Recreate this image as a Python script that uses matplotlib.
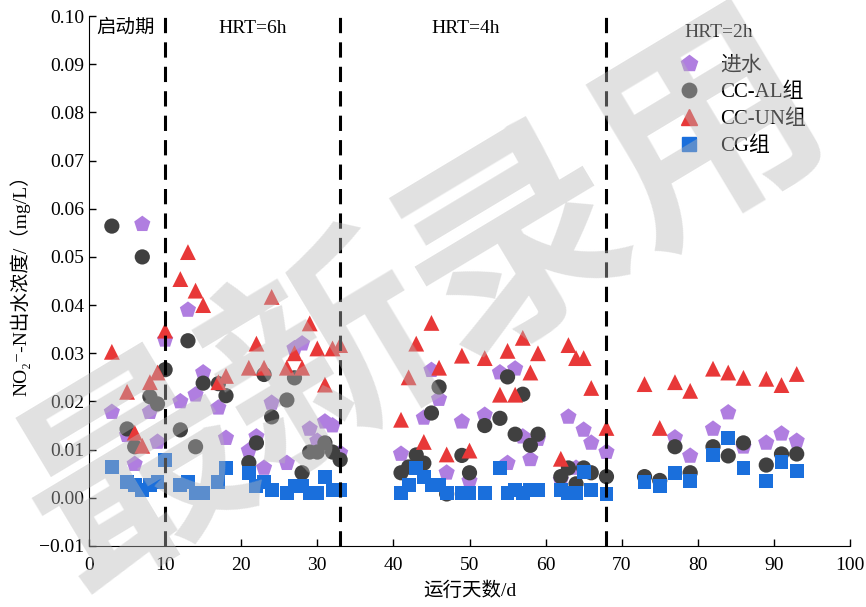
import numpy as np
import matplotlib
matplotlib.use('Agg')
import matplotlib.pyplot as plt
from matplotlib.lines import Line2D
from matplotlib.ticker import FuncFormatter

plt.rcParams['font.family'] = ['Liberation Serif', 'Noto Sans CJK SC', 'DejaVu Sans']

nan = np.nan

# sampling days (d)
days = [3, 5, 6, 7, 8, 9, 10,
        12, 13, 14, 15, 17, 18, 21, 22, 23, 24, 26, 27, 28, 29, 30, 31, 32, 33,
        41, 42, 43, 44, 45, 46, 47, 49, 50, 52, 54, 55, 56, 57, 58, 59, 62, 63, 64, 65, 66, 68,
        73, 75, 77, 79, 82, 84, 86, 89, 91, 93]

# NO2--N concentration (mg/L)
influent = [0.0178, 0.0130, 0.0070, 0.0568, 0.0178, 0.0116, 0.0328,
            0.0200, 0.0390, 0.0214, 0.0260, 0.0187, 0.0124, 0.0098, 0.0127, 0.0062, 0.0197,
            0.0072, 0.0310, 0.0320, 0.0143, 0.0118, 0.0158, 0.0150, 0.0093,
            0.0091, nan, nan, 0.0166, 0.0265, 0.0205, 0.0052, 0.0158, 0.0035, 0.0172,
            0.0260, 0.0072, 0.0268, 0.0127, 0.0080, 0.0122, 0.0037, 0.0168, 0.0062, 0.0141,
            0.0114, 0.0095,
            nan, nan, 0.0125, 0.0087, 0.0143, 0.0177, 0.0106, 0.0114, 0.0133, 0.0118]

cc_al = [0.0564, 0.0143, 0.0106, 0.0500, 0.0210, 0.0195, 0.0266,
         0.0141, 0.0326, 0.0106, 0.0238, 0.0237, 0.0212, 0.0073, 0.0114, 0.0256, 0.0168,
         0.0203, 0.0249, 0.0052, 0.0095, 0.0095, 0.0114, 0.0095, 0.0079,
         0.0052, 0.0064, 0.0089, 0.0072, 0.0176, 0.0230, 0.0008, 0.0088, 0.0052, 0.0150,
         0.0165, 0.0251, 0.0132, 0.0215, 0.0109, 0.0132, 0.0044, 0.0062, 0.0029, 0.0062,
         0.0052, 0.0044,
         0.0044, 0.0036, 0.0106, 0.0052, 0.0106, 0.0087, 0.0114, 0.0068, 0.0091, 0.0091]

cc_un = [0.0303, 0.0220, 0.0135, 0.0108, 0.0240, 0.0260, 0.0347,
         0.0454, 0.0510, 0.0430, 0.0400, 0.0240, 0.0253, 0.0270, 0.0320, 0.0270, 0.0417,
         0.0270, 0.0300, 0.0270, 0.0362, 0.0310, 0.0235, 0.0310, 0.0317,
         0.0162, 0.0250, 0.0320, 0.0116, 0.0363, 0.0270, 0.0090, 0.0295, 0.0098, 0.0290,
         0.0214, 0.0305, 0.0214, 0.0332, 0.0260, 0.0300, 0.0081, 0.0317, 0.0290, 0.0290,
         0.0228, 0.0145,
         0.0236, 0.0145, 0.0240, 0.0222, 0.0268, 0.0260, 0.0249, 0.0247, 0.0234, 0.0257]

cg = [0.0064, 0.0033, 0.0027, 0.0017, 0.0027, 0.0033, 0.0079,
      0.0027, 0.0033, 0.0010, 0.0010, 0.0033, 0.0062, 0.0052, 0.0025, 0.0033, 0.0017,
      0.0010, 0.0025, 0.0025, 0.0010, 0.0010, 0.0043, 0.0017, 0.0017,
      0.0010, 0.0027, 0.0062, 0.0044, 0.0027, 0.0027, 0.0010, 0.0010, 0.0010, 0.0010,
      0.0062, 0.0010, 0.0017, 0.0010, 0.0017, 0.0017, 0.0017, 0.0010, 0.0010, 0.0054,
      0.0017, 0.0008,
      0.0033, 0.0025, 0.0052, 0.0035, 0.0089, 0.0124, 0.0062, 0.0035, 0.0075, 0.0056]

phase_bounds = [10, 33, 68]
phase_labels = ['启动期', 'HRT=6h', 'HRT=4h', 'HRT=2h']
phase_label_x = [1.0, 21.5, 49.5, 82.8]
phase_label_y = [0.0975, 0.0975, 0.0975, 0.0965]

series = [
    ('进水', influent, 'p', '#b07ee0', 150),
    ('CC-AL组', cc_al, 'o', '#404040', 120),
    ('CC-UN组', cc_un, '^', '#e83838', 130),
    ('CG组', cg, 's', '#1a6fdc', 100),
]

fig = plt.figure(figsize=(8.66, 6.07), dpi=100)
ax = fig.add_axes([0.1028, 0.1005, 0.8787, 0.8731])

for name, vals, mk, col, s in series:
    ax.scatter(days, vals, marker=mk, s=s, color=col, edgecolors='none', zorder=3)

for xb in phase_bounds:
    ax.axvline(xb, color='black', lw=2.2, linestyle=(0, (5, 3)), zorder=4)

for lab, lx, ly in zip(phase_labels, phase_label_x, phase_label_y):
    ha = 'left' if lx < 5 else 'center'
    ax.text(lx, ly, lab, fontsize=14, ha=ha, va='center', zorder=12)

ax.set_xlim(0, 100)
ax.set_ylim(-0.01, 0.10)
ax.set_xticks(np.arange(0, 101, 10))
ax.set_yticks(np.arange(-0.01, 0.1001, 0.01))
ax.yaxis.set_major_formatter(FuncFormatter(lambda v, p: f'{v:.2f}'.replace('-', '\u2212')))
ax.tick_params(direction='in', labelsize=14, length=5, width=1)
ax.tick_params(axis='x', pad=8)
for sp in ['top', 'right']:
    ax.spines[sp].set_visible(False)

ax.set_xlabel('运行天数/d', fontsize=14, labelpad=5)
ax.set_ylabel('NO\u2082\u207b-N出水浓度/（mg/L）', fontsize=14, labelpad=6)

handles = [Line2D([], [], marker=mk, color=col, linestyle='none', markersize=np.sqrt(s) * 0.95)
           for name, vals, mk, col, s in series]
leg = ax.legend(handles, [s[0] for s in series], loc='upper left', bbox_to_anchor=(0.75, 0.96),
                frameon=False, fontsize=15, handlelength=1.0, handletextpad=1.0,
                labelspacing=0.35)
leg.set_zorder(12)

# watermark
fig.text(0.49, 0.5, '最新录用', fontsize=160, color='#b8b8b8', alpha=0.42,
         rotation=31, ha='center', va='center', fontweight='bold',
         family=['Noto Sans CJK SC'], zorder=10)

fig.savefig('out.png', dpi=100)
